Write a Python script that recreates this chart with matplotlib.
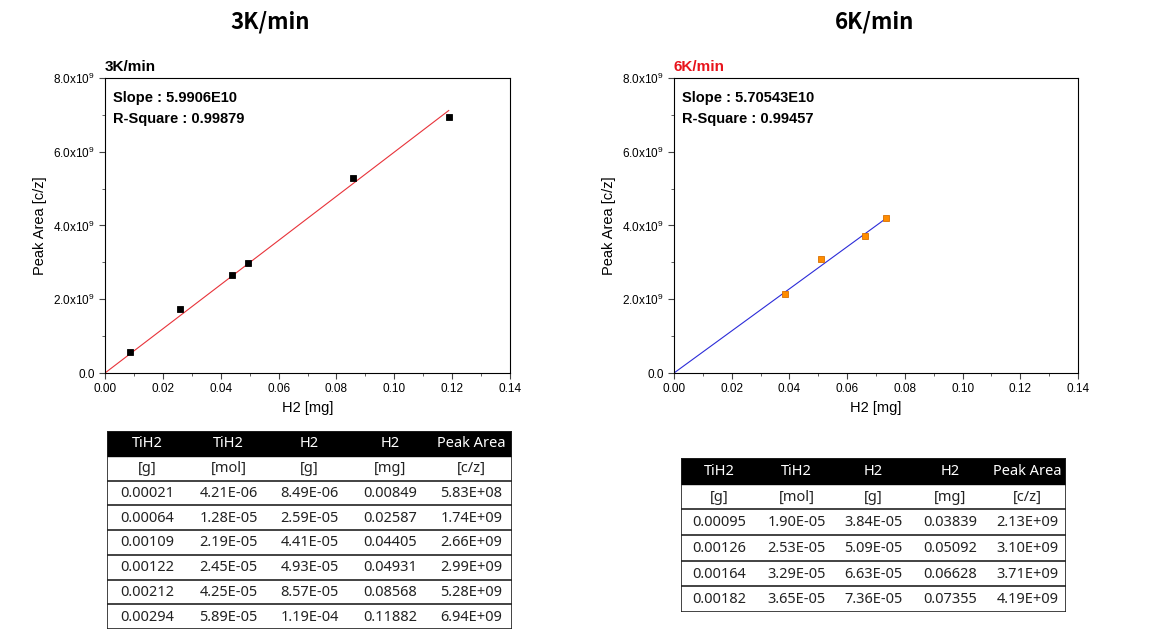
import matplotlib
matplotlib.use('Agg')
import matplotlib.pyplot as plt
from matplotlib.ticker import MultipleLocator, FuncFormatter
from matplotlib.patches import Rectangle

plt.rcParams['font.family'] = ['Liberation Sans', 'DejaVu Sans']
plt.rcParams['mathtext.fontset'] = 'custom'
plt.rcParams['mathtext.rm'] = 'Liberation Sans'

# 3K/min data
tih2_g_3k = ['0.00021', '0.00064', '0.00109', '0.00122', '0.00212', '0.00294']
tih2_mol_3k = ['4.21E-06', '1.28E-05', '2.19E-05', '2.45E-05', '4.25E-05', '5.89E-05']
h2_g_3k = ['8.49E-06', '2.59E-05', '4.41E-05', '4.93E-05', '8.57E-05', '1.19E-04']
h2_mg_3k = [0.00849, 0.02587, 0.04405, 0.04931, 0.08568, 0.11882]
peak_3k = [5.83e8, 1.74e9, 2.66e9, 2.99e9, 5.28e9, 6.94e9]
slope_3k = 5.9906e10
slope_3k_txt = '5.9906E10'
r2_3k = '0.99879'

# 6K/min data
tih2_g_6k = ['0.00095', '0.00126', '0.00164', '0.00182']
tih2_mol_6k = ['1.90E-05', '2.53E-05', '3.29E-05', '3.65E-05']
h2_g_6k = ['3.84E-05', '5.09E-05', '6.63E-05', '7.36E-05']
h2_mg_6k = [0.03839, 0.05092, 0.06628, 0.07355]
peak_6k = [2.13e9, 3.10e9, 3.71e9, 4.19e9]
slope_6k = 5.70543e10
slope_6k_txt = '5.70543E10'
r2_6k = '0.99457'

header = ['TiH2', 'TiH2', 'H2', 'H2', 'Peak Area']
units = ['[g]', '[mol]', '[g]', '[mg]', '[c/z]']

tf = ['Noto Sans', 'DejaVu Sans']
kr = ['Noto Sans CJK KR', 'DejaVu Sans']


def yfmt(v, pos):
    if abs(v) < 1:
        return '0.0'
    return r'$\mathregular{%.1fx10^{9}}$' % (v / 1e9)


def draw_chart(ax, x, y, slope, slope_txt, r2, label, label_color, mcolor, ecolor, lcolor):
    xs = [0, max(x)]
    ax.plot(xs, [slope * v for v in xs], color=lcolor, lw=0.8)
    ax.plot(x, y, 's', ms=5, color=mcolor, mec=ecolor, mew=0.6)
    ax.set_xlim(0, 0.14)
    ax.set_ylim(0, 8e9)
    ax.xaxis.set_major_locator(MultipleLocator(0.02))
    ax.xaxis.set_minor_locator(MultipleLocator(0.01))
    ax.yaxis.set_major_locator(MultipleLocator(2e9))
    ax.yaxis.set_minor_locator(MultipleLocator(1e9))
    ax.xaxis.set_major_formatter(FuncFormatter(lambda v, p: '%.2f' % v))
    ax.yaxis.set_major_formatter(FuncFormatter(yfmt))
    ax.tick_params(which='both', direction='out', labelsize=8.5, color='#444444')
    ax.tick_params(which='major', length=4)
    ax.tick_params(which='minor', length=2.5)
    ax.set_xlabel('H2 [mg]', fontsize=10.5)
    ax.set_ylabel('Peak Area [c/z]', fontsize=10.5)
    ax.text(0.02, 0.955, 'Slope : %s\nR-Square : %s' % (slope_txt, r2),
            transform=ax.transAxes, va='top', ha='left', fontsize=10.5,
            fontweight='bold', linespacing=1.6)
    ax.text(0.0, 1.015, label, transform=ax.transAxes, va='bottom', ha='left',
            fontsize=11, fontweight='bold', color=label_color)


def draw_table(ax, cols):
    nrows = 2 + len(cols[0])
    ncols = 5
    ax.set_xlim(0, ncols)
    ax.set_ylim(nrows, 0)
    ax.axis('off')
    ax.add_patch(Rectangle((0, 0), ncols, 1, color='black'))
    for j in range(ncols):
        ax.text(j + 0.5, 0.52, header[j], color='white', ha='center', va='center',
                fontsize=10.5, family=tf)
        ax.text(j + 0.5, 1.52, units[j], color='#222222', ha='center', va='center',
                fontsize=10.5, family=tf)
        for i, v in enumerate(cols[j]):
            ax.text(j + 0.5, 2.52 + i, v, color='#222222', ha='center', va='center',
                    fontsize=10.5, family=tf)
    for r in range(2, nrows):
        ax.plot([0, ncols], [r, r], color='#222222', lw=1.2)
    ax.add_patch(Rectangle((0, 0), ncols, nrows, fill=False, ec='#222222', lw=1.2))


fig = plt.figure(figsize=(11.6, 6.34), dpi=100)

fig.text(270 / 1160, 1 - 22 / 634, '3K/min', ha='center', va='center', fontsize=16,
         fontweight='bold', family=kr)
fig.text(875 / 1160, 1 - 22 / 634, '6K/min', ha='center', va='center', fontsize=16,
         fontweight='bold', family=kr)

ax1 = fig.add_axes([105 / 1160, 1 - 373 / 634, 405 / 1160, 295 / 634])
draw_chart(ax1, h2_mg_3k, peak_3k, slope_3k, slope_3k_txt, r2_3k, '3K/min', 'black',
           'black', 'black', '#e8333a')

ax2 = fig.add_axes([674 / 1160, 1 - 373 / 634, 404 / 1160, 295 / 634])
draw_chart(ax2, h2_mg_6k, peak_6k, slope_6k, slope_6k_txt, r2_6k, '6K/min', '#e8141c',
           '#ff8c00', '#d87000', '#2b2bd8')

t1 = fig.add_axes([107 / 1160, 1 - 629 / 634, 405 / 1160, 198 / 634])
draw_table(t1, [tih2_g_3k, tih2_mol_3k, h2_g_3k, ['%.5f' % v for v in h2_mg_3k],
                ['%.2E' % v for v in peak_3k]])

t2 = fig.add_axes([681 / 1160, 1 - 612 / 634, 385 / 1160, 154 / 634])
draw_table(t2, [tih2_g_6k, tih2_mol_6k, h2_g_6k, ['%.5f' % v for v in h2_mg_6k],
                ['%.2E' % v for v in peak_6k]])

fig.savefig('out.png', dpi=100)
